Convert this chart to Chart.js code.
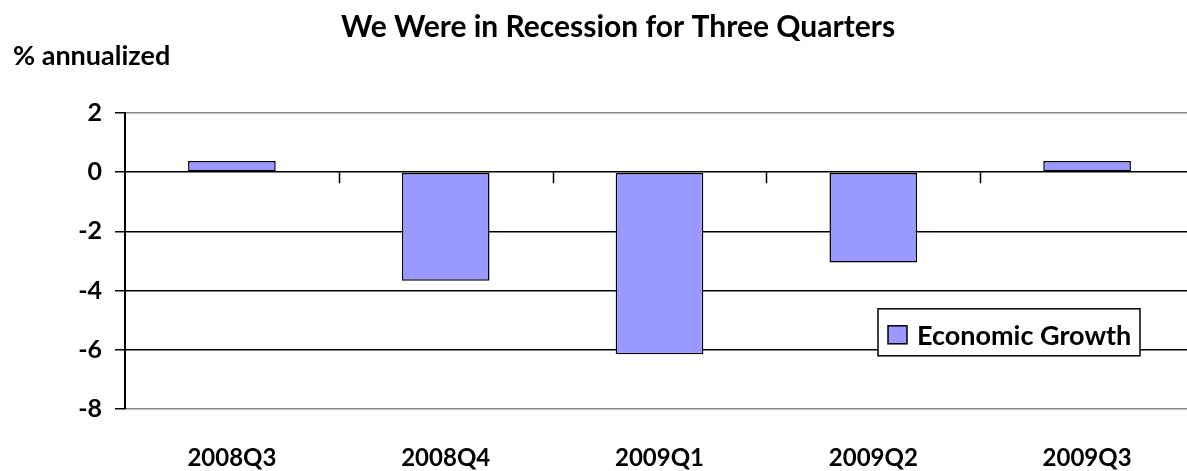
<!DOCTYPE html>
<html lang="en-US">
<head>
	<meta charset="utf-8">
	<title>We Were in Recession for Three Quarters</title>
	<script src="https://cdn.jsdelivr.net/npm/chart.js@4.4.1/dist/chart.umd.min.js"></script>
	<style>
		body { margin: 0; background: #fff; }
		.frame { width: 1187px; height: 471px; overflow: hidden; }
		.wrapper { width: 1200px; height: 480px; }
	</style>
</head>
<body>
	<div class="frame">
		<div class="wrapper">
			<canvas id="chart-0" width="1200" height="480"></canvas>
		</div>
	</div>

	<script>
		var quarters = ['2008Q3', '2008Q4', '2009Q1', '2009Q2', '2009Q3'];
		var growth = [0.38, -3.67, -6.15, -3.05, 0.38];
		var yTicks = [2, 0, -2, -4, -6, -8];

		var chartTitle = 'We Were in Recession for Three Quarters';
		var unitLabel = '% annualized';
		var seriesName = 'Economic Growth';

		var FONT = 'Lato, "Open Sans", sans-serif';
		var BAR_FILL = '#9999ff';

		Chart.defaults.font.family = FONT;
		Chart.defaults.color = '#000';

		// title and unit caption, placed like the original sheet
		var captions = {
			id: 'captions',
			afterDraw: function (chart) {
				var ctx = chart.ctx;
				ctx.save();
				ctx.fillStyle = '#000';
				ctx.textBaseline = 'alphabetic';
				ctx.font = 'bold 30px ' + FONT;
				ctx.textAlign = 'center';
				ctx.fillText(chartTitle, 618, 37);
				ctx.font = 'bold 27px ' + FONT;
				ctx.textAlign = 'left';
				ctx.fillText(unitLabel, 13, 65);
				ctx.restore();
			}
		};

		// small tick marks on the zero line between categories
		var zeroTicks = {
			id: 'zeroTicks',
			afterDatasetsDraw: function (chart) {
				var xs = chart.scales.x, ys = chart.scales.y;
				var y0 = ys.getPixelForValue(0);
				var ctx = chart.ctx;
				ctx.save();
				ctx.strokeStyle = '#000';
				ctx.lineWidth = 1.5;
				ctx.beginPath();
				for (var i = 1; i < quarters.length; i++) {
					var x = Math.round((xs.getPixelForValue(i - 1) + xs.getPixelForValue(i)) / 2) + 0.5;
					ctx.moveTo(x, y0);
					ctx.lineTo(x, y0 + 11);
				}
				ctx.stroke();
				ctx.restore();
			}
		};

		// boxed legend floating inside the plot area
		var boxLegend = {
			id: 'boxLegend',
			afterDatasetsDraw: function (chart) {
				var area = chart.chartArea;
				var ys = chart.scales.y;
				var ds = chart.data.datasets[0];
				var ctx = chart.ctx;
				var left = area.right - 316, top = ys.getPixelForValue(-6) - 41;
				var w = 262, h = 47;
				ctx.save();
				ctx.fillStyle = '#fff';
				ctx.fillRect(left, top, w, h);
				ctx.strokeStyle = '#000';
				ctx.lineWidth = 1.5;
				ctx.strokeRect(left, top, w, h);
				ctx.fillStyle = ds.backgroundColor;
				ctx.fillRect(left + 10, top + 17, 19, 18);
				ctx.strokeRect(left + 10, top + 17, 19, 18);
				ctx.fillStyle = '#000';
				ctx.font = 'bold 27px ' + FONT;
				ctx.textAlign = 'left';
				ctx.textBaseline = 'alphabetic';
				ctx.fillText(ds.label, left + 39, top + 36);
				ctx.restore();
			}
		};

		var data = {
			labels: quarters,
			datasets: [{
				label: seriesName,
				data: growth,
				backgroundColor: BAR_FILL,
				borderColor: '#000',
				borderWidth: 1.5,
				borderSkipped: false,
				categoryPercentage: 1,
				barPercentage: 0.41
			}]
		};

		var options = {
			responsive: false,
			animation: false,
			layout: {
				padding: { top: 113, right: 6, bottom: 0, left: 0 }
			},
			plugins: {
				legend: { display: false },
				title: { display: false },
				tooltip: { enabled: false }
			},
			scales: {
				x: {
					grid: { display: false },
					border: { display: false },
					ticks: {
						font: { size: 24, weight: 'bold' },
						padding: 27,
						maxRotation: 0,
						autoSkip: false
					},
					afterFit: function (scale) { scale.height = 71; }
				},
				y: {
					min: -8,
					max: 2,
					afterBuildTicks: function (scale) {
						scale.ticks = yTicks.map(function (v) { return { value: v }; });
					},
					grid: {
						color: function (ctx) {
							var v = ctx.tick && ctx.tick.value;
							return (v === yTicks[0] || v === yTicks[yTicks.length - 1]) ? '#868686' : '#000';
						},
						lineWidth: 1.5,
						tickLength: 10,
						tickColor: '#000'
					},
					border: { display: true, color: '#000', width: 2 },
					ticks: {
						font: { size: 25, weight: 'bold' },
						padding: 13
					},
					afterFit: function (scale) { scale.width = 125; }
				}
			}
		};

		var chart = new Chart('chart-0', {
			type: 'bar',
			data: data,
			options: options,
			plugins: [zeroTicks, boxLegend, captions]
		});
	</script>
</body>
</html>
